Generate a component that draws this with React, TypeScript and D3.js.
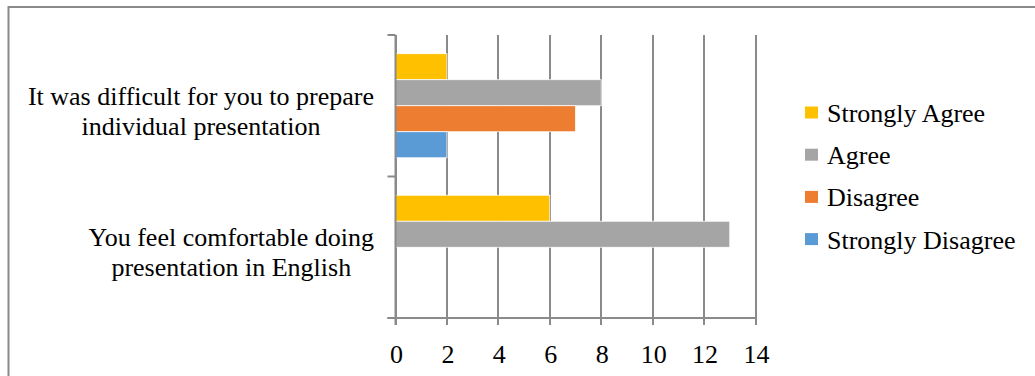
import { useRef, useEffect } from 'react'
import * as d3 from 'd3'

const categories = [
  'It was difficult for you to prepare|individual presentation',
  'You feel comfortable doing|presentation in English',
]
const seriesNames = ['Strongly Agree', 'Agree', 'Disagree', 'Strongly Disagree']
const seriesColors = ['#ffc000', '#a5a5a5', '#ed7d31', '#5b9bd5']
// values per series, in category order
const strongAgree = [2, 6]
const agree = [8, 13]
const disagree = [7, 0]
const strongDisagree = [2, 0]
const xTicks = [0, 2, 4, 6, 8, 10, 12, 14]

const W = 1035
const H = 376
const FONT = "'Liberation Serif', 'Times New Roman', serif"

export default function App() {
  const svgRef = useRef<SVGSVGElement>(null)

  useEffect(() => {
    if (!svgRef.current) return
    const svg = d3.select(svgRef.current)
    svg.selectAll('*').remove()

    const values = [strongAgree, agree, disagree, strongDisagree]
    const left = 395.5, right = 755.5, top = 35, bottom = 318
    const axisColor = '#8a8a8a'

    // chart frame (runs off the right and bottom of the picture)
    svg.append('rect')
      .attr('x', 8.5).attr('y', 7)
      .attr('width', 1200).attr('height', 500)
      .attr('fill', '#fff')
      .attr('stroke', axisColor)
      .attr('stroke-width', 2)

    const x = d3.scaleLinear().domain([0, 14]).range([left, right])
    const y = d3.scaleBand<number>().domain(categories.map((_, i) => i)).range([top, bottom])
    const ys = d3.scaleBand<number>()
      .domain(seriesNames.map((_, i) => i))
      .range([0, y.bandwidth()])
      .paddingOuter(0.72)

    // vertical gridlines + tick marks
    svg.append('g')
      .selectAll('line')
      .data(xTicks)
      .join('line')
      .attr('x1', d => Math.round(x(d)))
      .attr('x2', d => Math.round(x(d)))
      .attr('y1', top)
      .attr('y2', bottom + 7)
      .attr('stroke', axisColor)
      .attr('stroke-width', 2)

    // x axis line
    svg.append('line')
      .attr('x1', left - 8).attr('x2', right)
      .attr('y1', bottom).attr('y2', bottom)
      .attr('stroke', axisColor).attr('stroke-width', 2)

    // category axis ticks
    const catTicks = [top, top + y.step(), bottom]
    svg.append('g')
      .selectAll('line')
      .data(catTicks)
      .join('line')
      .attr('x1', left - 8).attr('x2', left)
      .attr('y1', d => d).attr('y2', d => d)
      .attr('stroke', axisColor).attr('stroke-width', 2)

    // bars
    values.forEach((vals, s) => {
      svg.append('g')
        .selectAll('rect')
        .data(vals.map((v, c) => ({ v, c })).filter(d => d.v > 0))
        .join('rect')
        .attr('x', x(0))
        .attr('y', d => y(d.c)! + ys(s)!)
        .attr('width', d => x(d.v) - x(0))
        .attr('height', ys.bandwidth())
        .attr('fill', seriesColors[s])
        .attr('stroke', '#fff')
        .attr('stroke-width', 0.75)
    })

    // y axis line
    svg.append('line')
      .attr('x1', left).attr('x2', left)
      .attr('y1', top).attr('y2', bottom + 7)
      .attr('stroke', axisColor).attr('stroke-width', 2)

    // x tick labels
    svg.append('g')
      .selectAll('text')
      .data(xTicks)
      .join('text')
      .attr('x', d => x(d) + 1)
      .attr('y', 363)
      .attr('text-anchor', 'middle')
      .attr('font-family', FONT)
      .attr('font-size', 26)
      .attr('fill', '#000')
      .text(d => d)

    // category labels, lines centred within a block set against the axis
    categories.forEach((cat, i) => {
      const cy = y(i)! + y.bandwidth() / 2
      const lines = cat.split('|')
      const texts = lines.map((ln, k) =>
        svg.append('text')
          .attr('y', cy - 1 + k * 30)
          .attr('text-anchor', 'middle')
          .attr('font-family', FONT)
          .attr('font-size', 26)
          .attr('fill', '#000')
          .text(ln))
      const maxW = d3.max(texts, t => (t.node() as SVGTextElement).getComputedTextLength()) || 0
      texts.forEach(t => t.attr('x', 374 - maxW / 2))
    })

    // legend
    const lg = svg.append('g')
    seriesNames.forEach((name, i) => {
      const cy = 112.5 + i * 42.2
      lg.append('rect')
        .attr('x', 805).attr('y', cy - 6)
        .attr('width', 13).attr('height', 12)
        .attr('fill', seriesColors[i])
      lg.append('text')
        .attr('x', 827).attr('y', cy + 9.5)
        .attr('font-family', FONT)
        .attr('font-size', 26)
        .attr('fill', '#000')
        .text(name)
    })
  }, [])

  return (
    <svg
      ref={svgRef}
      width={W}
      height={H}
      style={{ position: 'absolute', left: 0, top: 0, background: '#fff' }}
    />
  )
}
